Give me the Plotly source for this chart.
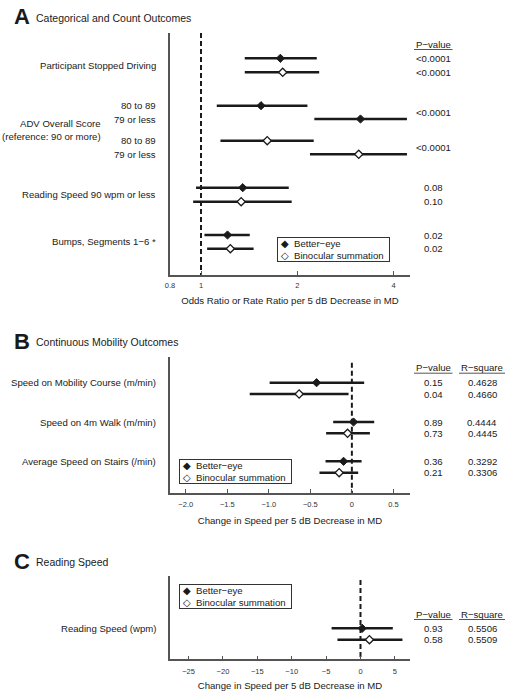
import plotly.graph_objects as go

W, H = 511, 698
FONT = "Liberation Sans, Arial, sans-serif"
INK = "#1a1a1a"
AXIS = "#555555"

# ---------------- data ----------------
# Panel A: odds / rate ratios (better-eye and binocular summation)
A_outcomes = ["Participant Stopped Driving", "ADV 80 to 89", "ADV 79 or less",
              "Reading Speed 90 wpm or less", "Bumps, Segments 1−6 *"]
A_better_est = [1.77, 1.54, 3.15, 1.35, 1.21]
A_better_lo = [1.37, 1.12, 2.26, 0.965, 1.025]
A_better_hi = [2.30, 2.15, 4.40, 1.88, 1.42]
A_binoc_est = [1.80, 1.61, 3.11, 1.335, 1.235]
A_binoc_lo = [1.37, 1.15, 2.19, 0.945, 1.045]
A_binoc_hi = [2.34, 2.25, 4.40, 1.92, 1.46]
A_pvalues = ["<0.0001", "<0.0001", "<0.0001", "<0.0001", "0.08", "0.10", "0.02", "0.02"]
A_tick_vals = [0.8, 1, 2, 4]
A_tick_text = ["0.8", "1", "2", "4"]

# Panel B: continuous mobility outcomes
B_outcomes = ["Speed on Mobility Course (m/min)", "Speed on 4m Walk (m/min)",
              "Average Speed on Stairs (/min)"]
B_better_est = [-0.425, 0.02, -0.10]
B_better_lo = [-0.99, -0.225, -0.317]
B_better_hi = [0.148, 0.269, 0.117]
B_binoc_est = [-0.635, -0.052, -0.153]
B_binoc_lo = [-1.23, -0.31, -0.39]
B_binoc_hi = [-0.04, 0.217, 0.076]
B_p_better = ["0.15", "0.89", "0.36"]
B_p_binoc = ["0.04", "0.73", "0.21"]
B_r2_better = ["0.4628", "0.4444", "0.3292"]
B_r2_binoc = ["0.4660", "0.4445", "0.3306"]
B_tick_vals = [-2.0, -1.5, -1.0, -0.5, 0, 0.5]
B_tick_text = ["−2.0", "−1.5", "−1.0", "−0.5", "0", "0.5"]

# Panel C: reading speed
C_outcomes = ["Reading Speed (wpm)"]
C_better_est = [0.25]
C_better_lo = [-4.2]
C_better_hi = [4.7]
C_binoc_est = [1.3]
C_binoc_lo = [-3.35]
C_binoc_hi = [6.1]
C_p_better = ["0.93"]
C_p_binoc = ["0.58"]
C_r2_better = ["0.5506"]
C_r2_binoc = ["0.5509"]
C_tick_vals = [-25, -20, -15, -10, -5, 0, 5]
C_tick_text = ["−25", "−20", "−15", "−10", "−5", "0", "5"]

# ---------------- layout (page-pixel positions of rows) ----------------
A_Y_BETTER = [58.3, 105.7, 119.0, 187.7, 235.0]
A_Y_BINOC = [72.3, 140.7, 154.3, 201.7, 248.7]
B_Y_BETTER = [382.7, 422.0, 461.3]
B_Y_BINOC = [394.0, 433.3, 472.7]
C_Y_BETTER = [628.3]
C_Y_BINOC = [639.7]

X_LEFT, X_RIGHT = 170, 410
A_TOP, A_BOT = 33, 275
B_TOP, B_BOT = 356.7, 493
C_TOP, C_BOT = 576, 659.3
LABEL_X = 158
P_X = 433
R_X = 482


def px(x):
    return x / W


def py(y):
    return 1 - y / H


def segments(lo, hi, ys):
    xs, yy = [], []
    for a, b, y in zip(lo, hi, ys):
        xs += [a, b, None]
        yy += [y, y, None]
    return xs, yy


fig = go.Figure()


def add_panel(xa, ya, b_est, b_lo, b_hi, b_y, n_est, n_lo, n_hi, n_y):
    for lo, hi, ys in ((b_lo, b_hi, b_y), (n_lo, n_hi, n_y)):
        xs, yy = segments(lo, hi, ys)
        fig.add_trace(go.Scatter(x=xs, y=yy, mode="lines", xaxis=xa, yaxis=ya,
                                 line=dict(color=INK, width=2.5), showlegend=False,
                                 hoverinfo="skip"))
    fig.add_trace(go.Scatter(x=b_est, y=b_y, mode="markers", xaxis=xa, yaxis=ya,
                             name="Better−eye", showlegend=False,
                             marker=dict(symbol="diamond", size=6.3, color=INK,
                                         line=dict(color=INK, width=1))))
    fig.add_trace(go.Scatter(x=n_est, y=n_y, mode="markers", xaxis=xa, yaxis=ya,
                             name="Binocular summation", showlegend=False,
                             marker=dict(symbol="diamond", size=6.3, color="white",
                                         line=dict(color=INK, width=1.3))))


add_panel("x", "y", A_better_est, A_better_lo, A_better_hi, A_Y_BETTER,
          A_binoc_est, A_binoc_lo, A_binoc_hi, A_Y_BINOC)
add_panel("x2", "y2", B_better_est, B_better_lo, B_better_hi, B_Y_BETTER,
          B_binoc_est, B_binoc_lo, B_binoc_hi, B_Y_BINOC)
add_panel("x3", "y3", C_better_est, C_better_lo, C_better_hi, C_Y_BETTER,
          C_binoc_est, C_binoc_lo, C_binoc_hi, C_Y_BINOC)

xcommon = dict(showline=True, linecolor=AXIS, linewidth=1.5, showgrid=False,
               zeroline=False, ticks="inside", ticklen=4, tickwidth=1.2,
               tickcolor=AXIS, tickfont=dict(size=7.5, color="#333", family=FONT),
               automargin=False, fixedrange=True)
ycommon = dict(showline=True, linecolor=AXIS, linewidth=1.5, showgrid=False,
               zeroline=False, showticklabels=False, ticks="", automargin=False,
               fixedrange=True)

title_font = dict(size=9.6, color=INK, family=FONT)

fig.update_layout(
    width=W, height=H, autosize=False,
    margin=dict(l=0, r=0, t=0, b=0),
    paper_bgcolor="white", plot_bgcolor="white",
    font=dict(family=FONT, color=INK, size=9.6),
    showlegend=False,
    xaxis=dict(xcommon, type="log", domain=[px(X_LEFT), px(X_RIGHT)],
               range=[-0.0969, 0.653], tickvals=A_tick_vals, ticktext=A_tick_text,
               anchor="y", ticklabelstandoff=2,
               title=dict(text="Odds Ratio or Rate Ratio per 5 dB Decrease in MD",
                          font=title_font, standoff=9)),
    yaxis=dict(ycommon, domain=[py(A_BOT), py(A_TOP)], range=[A_BOT, A_TOP], anchor="x"),
    xaxis2=dict(xcommon, domain=[px(X_LEFT), px(X_RIGHT)], range=[-2.19, 0.70],
                tickvals=B_tick_vals, ticktext=B_tick_text, anchor="y2",
                ticklabelstandoff=3,
                title=dict(text="Change in Speed per 5 dB Decrease in MD",
                           font=title_font, standoff=10)),
    yaxis2=dict(ycommon, domain=[py(B_BOT), py(B_TOP)], range=[B_BOT, B_TOP], anchor="x2"),
    xaxis3=dict(xcommon, domain=[px(X_LEFT), px(X_RIGHT)], range=[-27.7, 7.2],
                tickvals=C_tick_vals, ticktext=C_tick_text, anchor="y3",
                ticklabelstandoff=4,
                title=dict(text="Change in Speed per 5 dB Decrease in MD",
                           font=title_font, standoff=7)),
    yaxis3=dict(ycommon, domain=[py(C_BOT), py(C_TOP)], range=[C_BOT, C_TOP], anchor="x3"),
)

shapes = []
ann = []

# reference (null) lines
for xr, yr, xv, top, bot in (("x", "y", 1, A_TOP, A_BOT), ("x2", "y2", 0, B_TOP + 6, B_BOT),
                             ("x3", "y3", 0, C_TOP + 4, C_BOT)):
    shapes.append(dict(type="line", xref=xr, yref=yr, x0=xv, x1=xv, y0=top, y1=bot,
                       line=dict(color=INK, width=2, dash="5px,3px"), layer="below"))


def text(x, y, s, yref, xanchor="right", size=9.6):
    ann.append(dict(x=px(x), y=y, xref="paper", yref=yref, text=s, showarrow=False,
                    xanchor=xanchor, yanchor="middle", font=dict(size=size, color=INK)))


def header(y, yref, with_r2):
    text(P_X, y, "P−value", yref, "center")
    shapes.append(dict(type="line", xref="paper", yref=yref, x0=px(414), x1=px(452.5),
                       y0=y + 5.5, y1=y + 5.5, line=dict(color=AXIS, width=1)))
    if with_r2:
        text(R_X, y, "R−square", yref, "center")
        shapes.append(dict(type="line", xref="paper", yref=yref, x0=px(459), x1=px(505),
                           y0=y + 5.5, y1=y + 5.5, line=dict(color=AXIS, width=1)))


# Panel titles
for letter, title, yc in (("A", "Categorical and Count Outcomes", 17),
                          ("B", "Continuous Mobility Outcomes", 341),
                          ("C", "Reading Speed", 561)):
    ann.append(dict(x=px(12), y=py(yc), xref="paper", yref="paper", text="<b>" + letter + "</b>",
                    showarrow=False, xanchor="left", yanchor="middle",
                    font=dict(size=22, color=INK, family=FONT)))
    ann.append(dict(x=px(34), y=py(yc + 1), xref="paper", yref="paper", text=title,
                    showarrow=False, xanchor="left", yanchor="middle",
                    font=dict(size=10.5, color=INK, family=FONT)))

# ---- Panel A labels ----
text(LABEL_X, (A_Y_BETTER[0] + A_Y_BINOC[0]) / 2, A_outcomes[0], "y")
text(LABEL_X, A_Y_BETTER[1], "80 to 89", "y")
text(LABEL_X, A_Y_BETTER[2], "79 or less", "y")
text(LABEL_X, A_Y_BINOC[1], "80 to 89", "y")
text(LABEL_X, A_Y_BINOC[2], "79 or less", "y")
adv_mid = (A_Y_BETTER[1] + A_Y_BINOC[2]) / 2
text(103, adv_mid - 6.5, "ADV Overall Score", "y")
text(103, adv_mid + 6.5, "(reference: 90 or more)", "y")
text(LABEL_X, (A_Y_BETTER[3] + A_Y_BINOC[3]) / 2, A_outcomes[3], "y")
text(LABEL_X, (A_Y_BETTER[4] + A_Y_BINOC[4]) / 2, A_outcomes[4], "y")

header(A_Y_BETTER[0] - 14.3, "y", False)
p_rows = [A_Y_BETTER[0], A_Y_BINOC[0],
          (A_Y_BETTER[1] + A_Y_BETTER[2]) / 2, (A_Y_BINOC[1] + A_Y_BINOC[2]) / 2,
          A_Y_BETTER[3], A_Y_BINOC[3], A_Y_BETTER[4], A_Y_BINOC[4]]
for yv, pv in zip(p_rows, A_pvalues):
    text(P_X, yv, pv, "y", "center")

# ---- Panel B labels ----
for lab, yb in zip(B_outcomes, B_Y_BETTER):
    text(LABEL_X, yb, lab, "y2")
header(B_Y_BETTER[0] - 15, "y2", True)
for yb, yn, pb, pn, rb, rn in zip(B_Y_BETTER, B_Y_BINOC, B_p_better, B_p_binoc,
                                  B_r2_better, B_r2_binoc):
    text(P_X, yb, pb, "y2", "center")
    text(P_X, yn, pn, "y2", "center")
    text(R_X, yb, rb, "y2", "center")
    text(R_X, yn, rn, "y2", "center")

# ---- Panel C labels ----
for lab, yb in zip(C_outcomes, C_Y_BETTER):
    text(LABEL_X, yb, lab, "y3")
header(C_Y_BETTER[0] - 14.3, "y3", True)
for yb, yn, pb, pn, rb, rn in zip(C_Y_BETTER, C_Y_BINOC, C_p_better, C_p_binoc,
                                  C_r2_better, C_r2_binoc):
    text(P_X, yb, pb, "y3", "center")
    text(P_X, yn, pn, "y3", "center")
    text(R_X, yb, rb, "y3", "center")
    text(R_X, yn, rn, "y3", "center")

# ---- Legend boxes ----
legend_text = "\u00a0◆\u00a0\u00a0Better−eye<br>\u00a0◇\u00a0\u00a0Binocular summation\u00a0\u00a0"
for lx, ly in ((277, 237.5), (179, 458.5), (179, 583.5)):
    ann.append(dict(x=px(lx), y=py(ly), xref="paper", yref="paper", text=legend_text,
                    showarrow=False, xanchor="left", yanchor="top", align="left",
                    bordercolor="#333", borderwidth=1, borderpad=0, bgcolor="white",
                    font=dict(size=9.6, color=INK, family=FONT)))

fig.update_layout(shapes=shapes, annotations=ann)
# remove the browser's default 8px body margin so the figure fills the window
fig.write_html("out.html", config={"displayModeBar": False},
               post_script="document.body.style.margin='0px';")
